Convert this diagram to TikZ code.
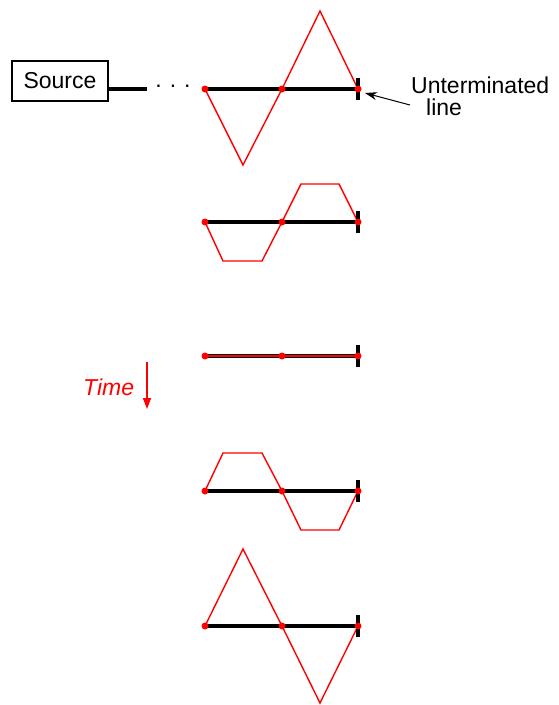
\documentclass[tikz,border=0pt]{standalone}
\usepackage{fontspec}
\setmainfont{Liberation Sans}
\usetikzlibrary{arrows.meta}
\begin{document}
\begin{tikzpicture}[x=1pt,y=-1pt,
  wire/.style={line width=3.4pt,black},
  wave/.style={red,line width=1.4pt,line join=miter},
  dotr/.style={circle,fill=red,inner sep=0pt,minimum size=7pt},
  txt/.style={inner sep=0pt,font=\fontsize{23}{27}\selectfont},
  endtick/.style={line width=3.2pt,black}]
\useasboundingbox (0,0) rectangle (559,705);
% Source
\node[draw,line width=1.2pt,minimum width=96pt,minimum height=40pt,inner sep=0pt] (src) at (60,81) {\fontsize{23}{27}\selectfont Source};
\coordinate (leadend) at (147,89);
\draw[wire] (src.east |- leadend) -- (leadend);
\node[inner sep=0pt,font=\fontsize{23}{27}\selectfont] (dots) at (173,86) {.\hspace{8pt}.\hspace{8pt}.};
% panels
\foreach \y/\name in {89/a,222/b,356/c,491/d,626/e}{
  \coordinate (\name L) at (205,\y);
  \coordinate (\name M) at (282,\y);
  \coordinate (\name R) at (358,\y);
}
% panel 1
\draw[wave] (aL) -- (243,165) -- (aM) -- (320,11) -- (aR);
% panel 2
\draw[wave] (bL) -- (223,261) -- (262,261) -- (bM) -- (301,184) -- (339,184) -- (bR);
% panel 4
\draw[wave] (dL) -- (223,453) -- (262,453) -- (dM) -- (301,530) -- (339,530) -- (dR);
% panel 5
\draw[wave] (eL) -- (243,549) -- (eM) -- (320,703) -- (eR);
\foreach \n in {a,b,c,d,e}{
  \draw[wire] (\n L) -- (\n R);
  \draw[endtick] ([yshift=-11pt]\n R) -- ([yshift=11pt]\n R);
}
\draw[red,line width=1.3pt] (cL) -- (cR);
\foreach \n in {a,b,c,d,e}{
  \node[dotr] at (\n L) {};
  \node[dotr] at (\n M) {};
  \node[dotr] at (\n R) {};
}
% label
\node[txt,anchor=base west] (unt) at (411,93) {Unterminated};
\node[txt,anchor=base west] (lin) at (426,115) {line};
\coordinate (arrs) at (410,105);
\draw[black,line width=1pt,-{Stealth[length=12pt,width=8pt]}] (arrs) -- (365,93);
% time
\node[txt,anchor=base west,red] (time) at (83,395) {\itshape Time};
\coordinate (t1) at (147,362);
\coordinate (t2) at (147,409);
\draw[red,line width=1.2pt,-{Triangle[length=11pt,width=8pt]}] (t1) -- (t2);
\end{tikzpicture}
\end{document}
